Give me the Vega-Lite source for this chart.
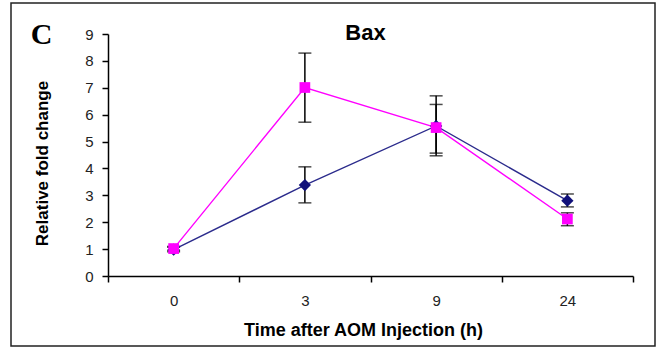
{
  "$schema": "https://vega.github.io/schema/vega-lite/v6.json",
  "width": 644,
  "height": 343,
  "autosize": {"type": "none"},
  "padding": {"left": 11, "top": 3, "right": 4, "bottom": 4},
  "background": "white",
  "data": {
    "values": [
      {"time": "0", "series": "Series 1", "value": 0.98, "lo": 0.9, "hi": 1.07},
      {"time": "3", "series": "Series 1", "value": 3.38, "lo": 2.72, "hi": 4.06},
      {"time": "9", "series": "Series 1", "value": 5.58, "lo": 4.47, "hi": 6.7},
      {"time": "24", "series": "Series 1", "value": 2.8, "lo": 2.57, "hi": 3.05},
      {"time": "0", "series": "Series 2", "value": 1.02, "lo": 0.95, "hi": 1.1},
      {"time": "3", "series": "Series 2", "value": 7.01, "lo": 5.72, "hi": 8.29},
      {"time": "9", "series": "Series 2", "value": 5.52, "lo": 4.57, "hi": 6.38},
      {"time": "24", "series": "Series 2", "value": 2.12, "lo": 1.87, "hi": 2.35}
    ]
  },
  "layer": [
    {
      "mark": {"type": "rule", "color": "black", "strokeWidth": 1.5},
      "encoding": {
        "x": {
          "field": "time", "type": "ordinal", "sort": ["0", "3", "9", "24"],
          "scale": {"type": "band", "range": [97, 622], "paddingInner": 0, "paddingOuter": 0},
          "axis": {
            "orient": "bottom", "offset": -70, "tickBand": "extent", "tickSize": 6,
            "labelPadding": 11, "labelFontSize": 15, "labelAngle": 0, "labelColor": "#222",
            "labelFont": "Liberation Sans",
            "domainColor": "black", "domainWidth": 1.5, "tickColor": "black", "tickWidth": 1.5,
            "grid": false,
            "title": "Time after AOM Injection (h)", "titleFont": "Liberation Sans",
            "titleFontSize": 18, "titleFontWeight": "bold", "titleColor": "black",
            "titleX": 352, "titleY": 59, "titleAlign": "center", "titleBaseline": "alphabetic"
          }
        },
        "y": {
          "field": "lo", "type": "quantitative", "title": "Relative fold change",
          "scale": {"domain": [0, 9], "range": [273, 31], "nice": false, "zero": false},
          "axis": {
            "orient": "left", "offset": -97, "values": [0, 1, 2, 3, 4, 5, 6, 7, 8, 9],
            "tickCount": 20, "format": "d", "labelOverlap": false,
            "tickSize": 6, "labelPadding": 9, "labelFontSize": 15, "labelColor": "#222",
            "labelFont": "Liberation Sans",
            "domainColor": "black", "domainWidth": 1.5, "tickColor": "black", "tickWidth": 1.5,
            "grid": false,
            "titleFont": "Liberation Sans", "titleFontSize": 17, "titleFontWeight": "bold",
            "titleColor": "black", "titleX": -66, "titleY": 160, "titleAngle": 270,
            "titleAlign": "center", "titleBaseline": "middle"
          }
        },
        "y2": {"field": "hi"}
      }
    },
    {
      "mark": {"type": "tick", "color": "black", "size": 13, "thickness": 1.5},
      "encoding": {
        "x": {"field": "time", "type": "ordinal", "sort": ["0", "3", "9", "24"], "axis": null},
        "y": {"field": "lo", "type": "quantitative", "axis": null}
      }
    },
    {
      "mark": {"type": "tick", "color": "black", "size": 13, "thickness": 1.5},
      "encoding": {
        "x": {"field": "time", "type": "ordinal", "sort": ["0", "3", "9", "24"], "axis": null},
        "y": {"field": "hi", "type": "quantitative", "axis": null}
      }
    },
    {
      "mark": {"type": "line", "strokeWidth": 1.4},
      "encoding": {
        "x": {"field": "time", "type": "ordinal", "sort": ["0", "3", "9", "24"], "axis": null},
        "y": {"field": "value", "type": "quantitative", "axis": null},
        "color": {"field": "series", "type": "nominal", "scale": {"domain": ["Series 1", "Series 2"], "range": ["#2b2b8c", "#ff00ff"]}, "legend": null}
      }
    },
    {
      "mark": {"type": "point", "filled": true, "opacity": 1},
      "encoding": {
        "x": {
          "field": "time", "type": "ordinal", "sort": ["0", "3", "9", "24"],
          "axis": {
            "orient": "top", "labels": false, "ticks": false, "domain": false, "grid": false,
            "title": "C", "titleFont": "Liberation Serif", "titleFontSize": 30,
            "titleFontWeight": "bold", "titleColor": "black", "titleX": 30, "titleY": 40,
            "titleAlign": "center", "titleBaseline": "alphabetic", "titleAngle": 0
          }
        },
        "y": {
          "field": "value", "type": "quantitative",
          "axis": {
            "orient": "right", "labels": false, "ticks": false, "domain": false, "grid": false,
            "title": "Bax", "titleFont": "Liberation Sans", "titleFontSize": 22,
            "titleFontWeight": "bold", "titleColor": "black", "titleX": -290, "titleY": 36,
            "titleAlign": "center", "titleBaseline": "alphabetic", "titleAngle": 0
          }
        },
        "color": {"field": "series", "type": "nominal", "scale": {"domain": ["Series 1", "Series 2"], "range": ["#10107a", "#ff00ff"]}, "legend": null},
        "shape": {"field": "series", "type": "nominal", "scale": {"domain": ["Series 1", "Series 2"], "range": ["diamond", "square"]}, "legend": null},
        "size": {"field": "series", "type": "nominal", "scale": {"domain": ["Series 1", "Series 2"], "range": [150, 115]}, "legend": null}
      }
    }
  ],
  "resolve": {"axis": {"x": "independent", "y": "independent"}, "scale": {"color": "independent"}},
  "config": {
    "view": {"stroke": "#222", "strokeWidth": 1.5},
    "font": "Liberation Sans"
  }
}
